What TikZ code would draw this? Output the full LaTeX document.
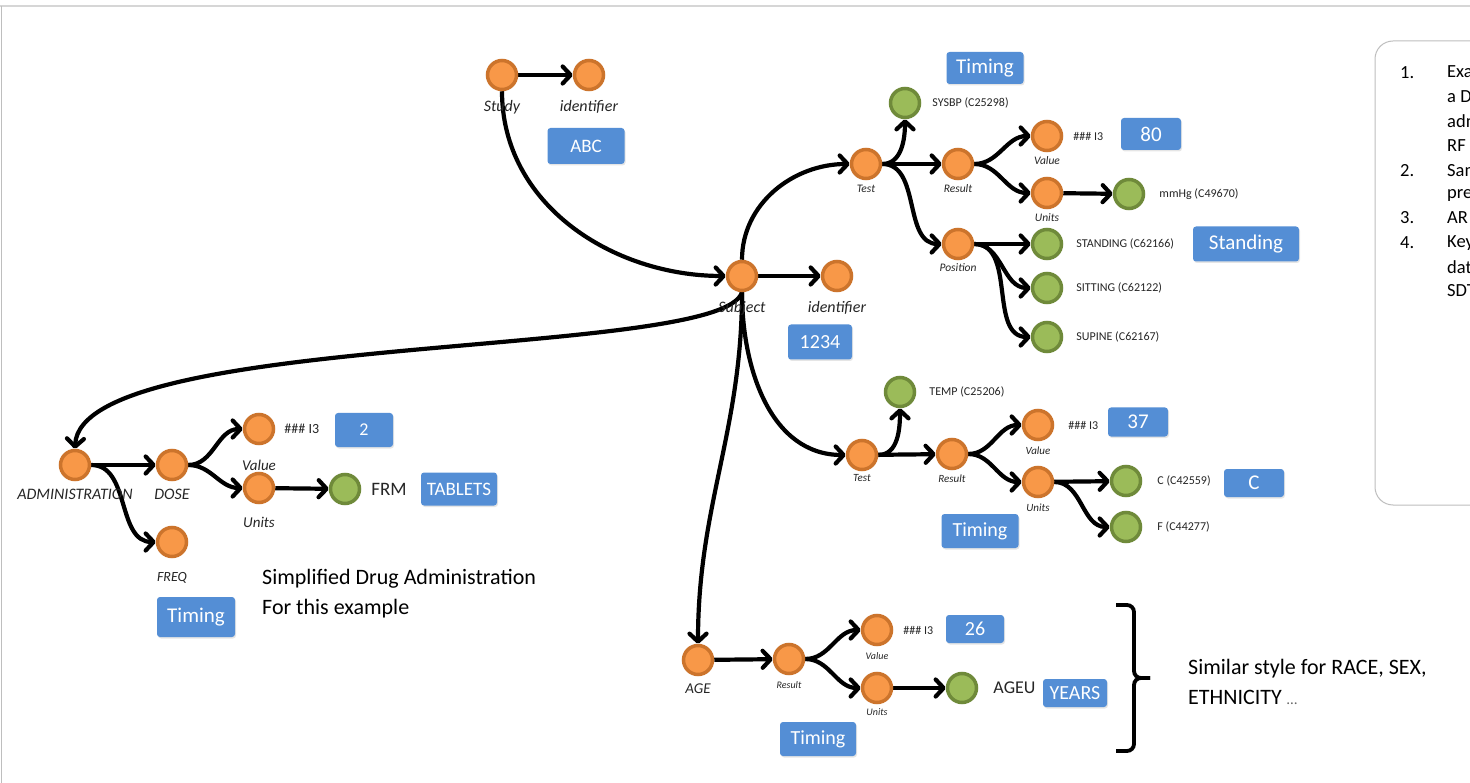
\documentclass[tikz,border=0pt]{standalone}
\usepackage{fontspec}
\setmainfont{Carlito}
\usetikzlibrary{arrows.meta, positioning, shadows, backgrounds}
\definecolor{termorange}{RGB}{248,152,72}
\definecolor{termedge}{RGB}{204,116,44}
\definecolor{codegreen}{RGB}{155,187,89}
\definecolor{codeedge}{RGB}{111,138,58}
\definecolor{tagblue}{RGB}{84,142,213}
\definecolor{framegray}{RGB}{214,214,214}
\definecolor{panelgray}{RGB}{190,190,190}

\begin{document}
\begin{tikzpicture}[x=1pt, y=-1pt,
  term/.style={circle, fill=termorange, draw=termedge, line width=3.5pt, minimum size=29pt, inner sep=0pt},
  code/.style={circle, fill=codegreen, draw=codeedge, line width=3.5pt, minimum size=29pt, inner sep=0pt},
  lbl/.style={font=\itshape\fontsize{#1}{#1}\selectfont, inner sep=0pt, text=black!85},
  codetxt/.style={font=\fontsize{#1}{#1}\selectfont, inner sep=1pt, text=black!85},
  valbox/.style={rectangle, rounded corners=3pt, fill=tagblue, text=white, inner sep=0pt,
    font=\fontsize{#1}{#1}\selectfont, drop shadow={opacity=0.2, shadow xshift=1pt, shadow yshift=-1.5pt}},
  note/.style={font=\fontsize{22}{30}\selectfont, align=left, anchor=west, inner sep=0pt},
  paneltxt/.style={font=\fontsize{18.5}{18.5}\selectfont, anchor=west, inner sep=0pt},
  link/.style={-{Straight Barb[round, length=8pt, width=17pt]}, line width=4.2pt}
]
\useasboundingbox (0,0) rectangle (1470,783);
\clip (0,0) rectangle (1470,783);
\draw[framegray, line width=2pt] (0,6) -- (1470,6);
\draw[panelgray, line width=1.2pt] (1.5,6) -- (1.5,783);

% study and subject
\node[term] (study) at (502,75) {};
\node[term] (studyid) at (589,75) {};
\node[lbl=16, below=9pt of study] (studylbl) {Study};
\node[lbl=16, below=9pt of studyid] (studyidlbl) {identifier};
\node[valbox=19, minimum width=77pt, minimum height=36pt] (abc) at (586,146) {ABC};

\node[term] (subject) at (742,276) {};
\node[term] (subjid) at (837,276) {};
\node[lbl=16, below=9pt of subject] (subjectlbl) {Subject};
\node[lbl=16, below=9pt of subjid] (subjidlbl) {identifier};
\node[valbox=20, minimum width=64pt, minimum height=35pt] (usubjid) at (820,342) {1234};

% blood pressure test
\node[term] (test1) at (866,164) {};
\node[code] (sysbp) at (905,103) {};
\node[term] (res1) at (958,164) {};
\node[term] (val1) at (1047,136) {};
\node[term] (unit1) at (1047,193) {};
\node[code] (mmhg) at (1129,194) {};
\node[term] (pos) at (958,244) {};
\node[code] (standing) at (1047,244) {};
\node[code] (sitting) at (1047,288) {};
\node[code] (supine) at (1047,337) {};
\node[lbl=11.5, below=4.5pt of test1] (test1lbl) {Test};
\node[lbl=11.5, below=4.5pt of res1] (res1lbl) {Result};
\node[lbl=11.5, below=4.5pt of val1] (val1lbl) {Value};
\node[lbl=11.5, below=4.5pt of unit1] (unit1lbl) {Units};
\node[lbl=11.5, below=3.5pt of pos] (poslbl) {Position};
\node[codetxt=12, right=10pt of sysbp] (sysbptxt) {SYSBP (C25298)};
\node[codetxt=12, right=9pt of val1] (val1txt) {\#\#\# I3};
\node[codetxt=12, right=13pt of mmhg] (mmhgtxt) {mmHg (C49670)};
\node[codetxt=12, right=12pt of standing] (standingtxt) {STANDING (C62166)};
\node[codetxt=12, right=12pt of sitting] (sittingtxt) {SITTING (C62122)};
\node[codetxt=12, right=12pt of supine] (supinetxt) {SUPINE (C62167)};
\node[valbox=21, minimum width=77pt, minimum height=32pt] (timing1) at (985,68) {Timing};
\node[valbox=21, minimum width=60pt, minimum height=32pt] (sysval) at (1151,134) {80};
\node[valbox=21, minimum width=106pt, minimum height=35pt] (posval) at (1246,244) {Standing};

% temperature test
\node[term] (test2) at (862,455) {};
\node[code] (temp) at (900,392) {};
\node[term] (res2) at (952,454) {};
\node[term] (val2) at (1038,425) {};
\node[term] (unit2) at (1038,482) {};
\node[code] (degc) at (1126,481) {};
\node[code] (degf) at (1126,527) {};
\node[lbl=11, below=3pt of test2] (test2lbl) {Test};
\node[lbl=11, below=4pt of res2] (res2lbl) {Result};
\node[lbl=11, below=5pt of val2] (val2lbl) {Value};
\node[lbl=11, below=5pt of unit2] (unit2lbl) {Units};
\node[codetxt=12, right=12pt of temp] (temptxt) {TEMP (C25206)};
\node[codetxt=12, right=13pt of val2] (val2txt) {\#\#\# I3};
\node[codetxt=12, right=14pt of degc] (degctxt) {C (C42559)};
\node[codetxt=12, right=14pt of degf] (degftxt) {F (C44277)};
\node[valbox=21, minimum width=60pt, minimum height=29pt] (tempval) at (1138,422) {37};
\node[valbox=21, minimum width=60pt, minimum height=28pt] (unitval) at (1254,483) {C};
\node[valbox=20, minimum width=77pt, minimum height=34pt] (timing2) at (980,531) {Timing};

% drug administration
\node[term] (admin) at (75,465) {};
\node[term] (dose) at (172,465) {};
\node[term] (val3) at (259,429) {};
\node[term] (unit3) at (259,488) {};
\node[code] (frm) at (345,489) {};
\node[term] (freq) at (172,542) {};
\node[lbl=16, below=8pt of admin] (adminlbl) {ADMINISTRATION};
\node[lbl=16, below=8pt of dose] (doselbl) {DOSE};
\node[lbl=15, below=15pt of val3] (val3lbl) {Value};
\node[lbl=15, below=13pt of unit3] (unit3lbl) {Units};
\node[lbl=14, below=13.5pt of freq] (freqlbl) {FREQ};
\node[codetxt=14, right=8pt of val3] (val3txt) {\#\#\# I3};
\node[codetxt=19, right=9pt of frm] (frmtxt) {FRM};
\node[valbox=18, minimum width=58pt, minimum height=34pt] (doseval) at (364,430) {2};
\node[valbox=19, minimum width=76pt, minimum height=33pt] (frmval) at (459,489) {TABLETS};
\node[valbox=21, minimum width=78pt, minimum height=40pt] (timing3) at (196,617) {Timing};
\node[note] (drugnote) at (262,594) {Simplified Drug Administration\\For this example};

% age
\node[term] (age) at (698,660) {};
\node[term] (res3) at (789,659) {};
\node[term] (val4) at (877,630) {};
\node[term] (unit4) at (877,688) {};
\node[code] (ageu) at (962,688) {};
\node[lbl=15, below=7pt of age] (agelbl) {AGE};
\node[lbl=10, below=6pt of res3] (res3lbl) {Result};
\node[lbl=10, below=6pt of val4] (val4lbl) {Value};
\node[lbl=10, below=4pt of unit4] (unit4lbl) {Units};
\node[codetxt=12, right=9pt of val4] (val4txt) {\#\#\# I3};
\node[codetxt=18, right=14pt of ageu] (ageutxt) {AGEU};
\node[valbox=20, minimum width=58pt, minimum height=28pt] (ageval) at (975,629) {26};
\node[valbox=20, minimum width=64pt, minimum height=28pt] (ageuval) at (1075,693) {YEARS};
\node[valbox=20, minimum width=76pt, minimum height=34pt] (timing4) at (818,739) {Timing};

\draw[line width=3.8pt, rounded corners=7pt] (1116,605) -- (1134,605) -- (1134,678) -- (1150,678);
\draw[line width=3.8pt, rounded corners=7pt] (1116,751) -- (1134,751) -- (1134,678) -- (1150,678);
\node[note] (similar) at (1188,682) {Similar style for RACE, SEX,\\ETHNICITY {\fontsize{15}{15}\selectfont\textcolor{black!60}{…}}};

% notes panel
\draw[panelgray, line width=1pt, rounded corners=18pt] (1375,41) rectangle (1520,505);
\node[paneltxt] (p1) at (1400,73) {1.};
\node[paneltxt] (p1a) at (1447,73) {Example};
\node[paneltxt] (p1b) at (1447,98) {a Drug};
\node[paneltxt] (p1c) at (1447,121) {administered};
\node[paneltxt] (p1d) at (1447,146) {RF};
\node[paneltxt] (p2) at (1400,171) {2.};
\node[paneltxt] (p2a) at (1447,171) {Same};
\node[paneltxt] (p2b) at (1447,194) {present};
\node[paneltxt] (p3) at (1400,218) {3.};
\node[paneltxt] (p3a) at (1447,218) {AR};
\node[paneltxt] (p4) at (1400,243) {4.};
\node[paneltxt] (p4a) at (1447,243) {Key};
\node[paneltxt] (p4b) at (1447,267) {data};
\node[paneltxt] (p4c) at (1447,291) {SDTM};

% connectors
\begin{scope}[on background layer]
\fill[white] (0,0) rectangle (1470,783);
\draw[link] (study) -- (studyid);
\draw[link] (study) to[out=-90, in=180] (subject);
\draw[link] (subject) -- (subjid);
\draw[link] (subject) to[out=90, in=180] (test1);
\draw[link] (subject) to[out=-90, in=180] (test2);
\draw[link] (subject) to[out=-90, in=90] (age);
\draw[link] (subject.south) .. controls (722,360) and (80,330) .. (admin.north);

\draw[link] (test1) to[out=0, in=-90] (sysbp);
\draw[link] (test1) -- (res1);
\draw[link] (test1) to[out=0, in=180] (pos);
\draw[link] (res1) to[out=0, in=180] (val1);
\draw[link] (res1) to[out=0, in=180] (unit1);
\draw[link] (unit1) -- (mmhg);
\draw[link] (pos) -- (standing);
\draw[link] (pos) to[out=0, in=180] (sitting);
\draw[link] (pos) to[out=0, in=180] (supine);

\draw[link] (test2) to[out=0, in=-90] (temp);
\draw[link] (test2) -- (res2);
\draw[link] (res2) to[out=0, in=180] (val2);
\draw[link] (res2) to[out=0, in=180] (unit2);
\draw[link] (unit2) -- (degc);
\draw[link] (unit2) to[out=0, in=180] (degf);

\draw[link] (admin) -- (dose);
\draw[link] (admin) to[out=0, in=180] (freq);
\draw[link] (dose) to[out=0, in=180] (val3);
\draw[link] (dose) to[out=0, in=180] (unit3);
\draw[link] (unit3) -- (frm);

\draw[link] (age) -- (res3);
\draw[link] (res3) to[out=0, in=180] (val4);
\draw[link] (res3) to[out=0, in=180] (unit4);
\draw[link] (unit4) -- (ageu);
\end{scope}
\end{tikzpicture}
\end{document}
